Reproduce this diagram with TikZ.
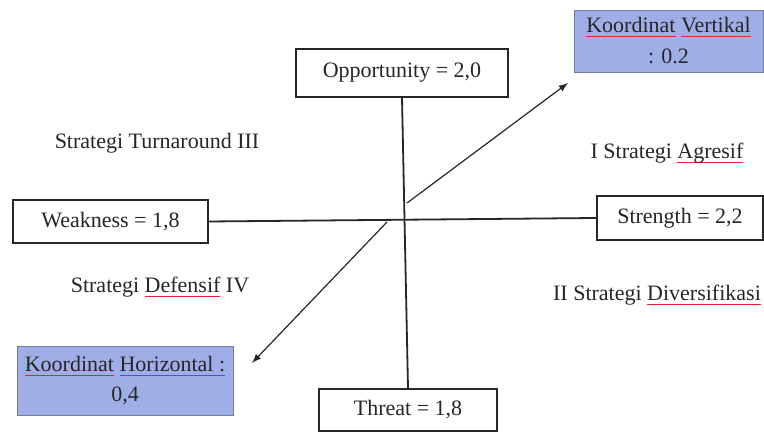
\documentclass[tikz,border=0pt]{standalone}
\usepackage{fontspec}
\setmainfont{Liberation Serif}
\usetikzlibrary{shapes,arrows,calc,positioning}

\definecolor{coordblue}{RGB}{160,174,232}
\definecolor{typored}{RGB}{235,30,60}
\newsavebox{\typobox}
\newcommand{\typo}[1]{\sbox{\typobox}{#1}\rlap{\textcolor{typored}{\rule[-2.2pt]{\wd\typobox}{0.6pt}}}\usebox{\typobox}}
\newcommand{\gram}[1]{\sbox{\typobox}{#1}\rlap{\textcolor{blue!70}{\rule[-2.2pt]{\wd\typobox}{0.6pt}}}\usebox{\typobox}}

\begin{document}
\begin{tikzpicture}[x=0.5pt,y=-0.5pt,
  every node/.style={font=\fontsize{11}{13.5}\selectfont,text=black!85,inner sep=0pt},
  box/.style={draw=black!85,line width=0.9pt,rectangle,fill=white},
  coordbox/.style={draw=coordblue!70!black,line width=0.4pt,rectangle,fill=coordblue},
  quad/.style={}]

        \useasboundingbox (0,0) rectangle (764,432);

        % factor boxes
        \node[box,minimum width=106pt,minimum height=24pt] (opp) at (402,73) {Opportunity = 2,0};
        \node[box,minimum width=97.5pt,minimum height=21.5pt] (weak) at (110.5,221.5) {Weakness = 1,8};
        \node[box,minimum width=83pt,minimum height=22pt] (str) at (680,218) {Strength = 2,2};
        \node[box,minimum width=89pt,minimum height=21pt] (threat) at (408,410) {Threat = 1,8};

        % coordinates
        \node[coordbox,minimum width=94.5pt,minimum height=31pt] (kv) at (668.5,41) {};
        \node (kv1) at ([yshift=7pt]kv.center) {\typo{Koordinat} \typo{Vertikal}};
        \node (kv2) at ([yshift=-7.5pt]kv.center) {: 0.2};
        \node[coordbox,minimum width=108pt,minimum height=34.5pt] (kh) at (125,380.5) {};
        \node (kh1) at ([yshift=7pt]kh.center) {\typo{Koordinat} \gram{Horizontal :}};
        \node (kh2) at ([yshift=-7.5pt]kh.center) {0,4};

        % quadrants
        \node[quad] (q3) at (157,143) {Strategi Turnaround III};
        \node[quad] (q1) at (667,153) {I Strategi \typo{Agresif}};
        \node[quad] (q2) at (657,295) {II Strategi \typo{Diversifikasi}};
        \node[quad] (q4) at (160,287) {Strategi \typo{Defensif} IV};

        % axes
        \draw[line width=0.9pt,black!85] (opp.south) -- (threat.north);
        \draw[line width=0.9pt,black!85] (weak.east) -- (str.west);

        % arrows
        \coordinate (up0) at (407,203);
        \coordinate (up1) at (568,83);
        \coordinate (dn0) at (387,222);
        \coordinate (dn1) at (252,363);
        \draw[-latex,line width=0.6pt,black!85] (up0) -- (up1);
        \draw[-latex,line width=0.6pt,black!85] (dn0) -- (dn1);
      \end{tikzpicture}
\end{document}
